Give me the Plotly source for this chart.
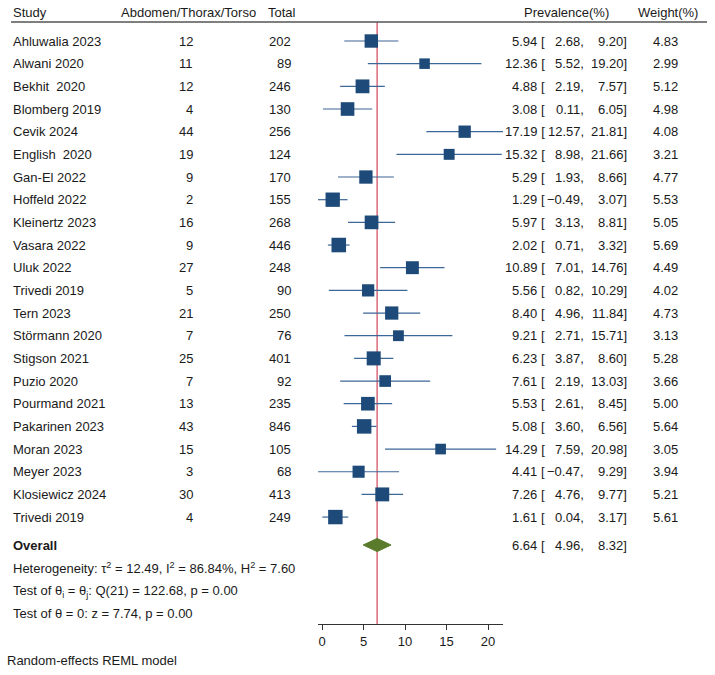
import plotly.graph_objects as go
import math

studies = ["Ahluwalia 2023", "Alwani 2020", "Bekhit\u00a0 2020", "Blomberg 2019", "Cevik 2024",
           "English\u00a0 2020", "Gan-El 2022", "Hoffeld 2022", "Kleinertz 2023", "Vasara 2022",
           "Uluk 2022", "Trivedi 2019", "Tern 2023", "Störmann 2020", "Stigson 2021",
           "Puzio 2020", "Pourmand 2021", "Pakarinen 2023", "Moran 2023", "Meyer 2023",
           "Klosiewicz 2024", "Trivedi 2019"]
cases = [12, 11, 12, 4, 44, 19, 9, 2, 16, 9, 27, 5, 21, 7, 25, 7, 13, 43, 15, 3, 30, 4]
totals = [202, 89, 246, 130, 256, 124, 170, 155, 268, 446, 248, 90, 250, 76, 401, 92, 235, 846, 105, 68, 413, 249]
est = [5.94, 12.36, 4.88, 3.08, 17.19, 15.32, 5.29, 1.29, 5.97, 2.02, 10.89, 5.56, 8.40, 9.21, 6.23,
       7.61, 5.53, 5.08, 14.29, 4.41, 7.26, 1.61]
lo = [2.68, 5.52, 2.19, 0.11, 12.57, 8.98, 1.93, -0.49, 3.13, 0.71, 7.01, 0.82, 4.96, 2.71, 3.87,
      2.19, 2.61, 3.60, 7.59, -0.47, 4.76, 0.04]
hi = [9.20, 19.20, 7.57, 6.05, 21.81, 21.66, 8.66, 3.07, 8.81, 3.32, 14.76, 10.29, 11.84, 15.71, 8.60,
      13.03, 8.45, 6.56, 20.98, 9.29, 9.77, 3.17]
weights = [4.83, 2.99, 5.12, 4.98, 4.08, 3.21, 4.77, 5.53, 5.05, 5.69, 4.49, 4.02, 4.73, 3.13, 5.28,
           3.66, 5.00, 5.64, 3.05, 3.94, 5.21, 5.61]
overall = [6.64, 4.96, 8.32]
x_ticks = [0, 5, 10, 15, 20]

W, H = 715, 675
FONT = "Liberation Sans, Arial, sans-serif"
TXT = "#1a1a1a"
rows = list(range(1, len(studies) + 1))
ROW0_PX, ROW_STEP = 41.0, 22.67
AX_TOP_PX, AX_BOT_PX = 22.0, 624.0
def px2row(p):
    return 1 + (p - ROW0_PX) / ROW_STEP
overall_row = px2row(545)

def fmt(v):
    s = f"{v:.2f}"
    return s.replace("-", "\u2212")

fig = go.Figure()

# CI lines
xs, ys = [], []
for r, a, b in zip(rows, lo, hi):
    xs += [a, b, None]
    ys += [r, r, None]
fig.add_trace(go.Scatter(x=xs, y=ys, mode="lines", line=dict(color="#3c6796", width=1.2),
                         hoverinfo="skip", showlegend=False))
# squares
fig.add_trace(go.Scatter(x=est, y=rows, mode="markers",
                         marker=dict(symbol="square", color="#1d4a78", opacity=1,
                                     size=[6.1 * math.sqrt(w) for w in weights],
                                     line=dict(width=0)),
                         showlegend=False))
# diamond
dh = 0.29
fig.add_trace(go.Scatter(x=[overall[1], overall[0], overall[2], overall[0], overall[1]],
                         y=[overall_row, overall_row - dh, overall_row, overall_row + dh, overall_row],
                         mode="lines", fill="toself", fillcolor="#5a7a2c",
                         line=dict(color="#5a7a2c", width=1), showlegend=False))

# red reference line
fig.add_shape(type="line", xref="x", yref="y domain", x0=overall[0], x1=overall[0], y0=0, y1=1,
              line=dict(color="#d0455a", width=1.2), layer="below")
# header line
fig.add_shape(type="line", xref="paper", yref="paper", x0=11 / W, x1=707 / W,
              y0=1 - AX_TOP_PX / H, y1=1 - AX_TOP_PX / H, line=dict(color="#555555", width=1.5))

def ann(text, xpx, y, anchor="left", yref="y", size=13, bold=False):
    if bold:
        text = f"<b>{text}</b>"
    fig.add_annotation(text=text, x=xpx / W, xref="paper", y=y, yref=yref, showarrow=False,
                       xanchor=anchor, yanchor="middle", font=dict(family=FONT, size=size, color=TXT))

def ypx(p):
    return 1 - p / H

# headers
ann("Study", 11, ypx(12), yref="paper")
ann("Abdomen/Thorax/Torso", 258, ypx(12), anchor="right", yref="paper")
ann("Total", 298, ypx(12), anchor="right", yref="paper")
ann("Prevalence(%)", 611, ypx(12), anchor="right", yref="paper")
ann("Weight(%)", 700, ypx(12), anchor="right", yref="paper")

for r, s, c, t, e, a, b, w in zip(rows, studies, cases, totals, est, lo, hi, weights):
    ann(s, 11, r)
    ann(str(c), 195, r, anchor="right")
    ann(str(t), 293, r, anchor="right")
    ann(fmt(e) + " [", 547, r, anchor="right")
    ann(fmt(a) + ",", 586, r, anchor="right")
    ann(fmt(b) + "]", 629, r, anchor="right")
    ann(f"{w:.2f}", 680, r, anchor="right")

ann("Overall", 11, overall_row, bold=True)
ann(fmt(overall[0]) + " [", 547, overall_row, anchor="right")
ann(fmt(overall[1]) + ",", 586, overall_row, anchor="right")
ann(fmt(overall[2]) + "]", 629, overall_row, anchor="right")

ann("Heterogeneity: \u03c4<sup>2</sup> = 12.49, I<sup>2</sup> = 86.84%, H<sup>2</sup> = 7.60", 11, px2row(568))
ann("Test of \u03b8<sub>i</sub> = \u03b8<sub>j</sub>: Q(21) = 122.68, p = 0.00", 11, px2row(591))
ann("Test of \u03b8 = 0: z = 7.74, p = 0.00", 11, px2row(613))
ann("Random-effects REML model", 5, ypx(660), yref="paper")

x0px, x1px = 318, 503
px_per_unit = (488 - 322) / 20
fig.update_layout(
    width=W, height=H, margin=dict(l=0, r=0, t=0, b=0),
    paper_bgcolor="white", plot_bgcolor="white",
    font=dict(family=FONT, size=13, color=TXT),
    xaxis=dict(domain=[x0px / W, x1px / W],
               range=[-(322 - x0px) / px_per_unit, (x1px - 322) / px_per_unit],
               tickvals=x_ticks, ticks="outside", ticklen=5, tickcolor="#333333",
               showline=True, linecolor="#333333", linewidth=1, showgrid=False, zeroline=False,
               tickfont=dict(family=FONT, size=13, color=TXT)),
    yaxis=dict(domain=[1 - AX_BOT_PX / H, 1 - AX_TOP_PX / H],
               range=[px2row(AX_BOT_PX), px2row(AX_TOP_PX)],
               visible=False, showgrid=False, zeroline=False),
)

fig.write_html("out.html")
